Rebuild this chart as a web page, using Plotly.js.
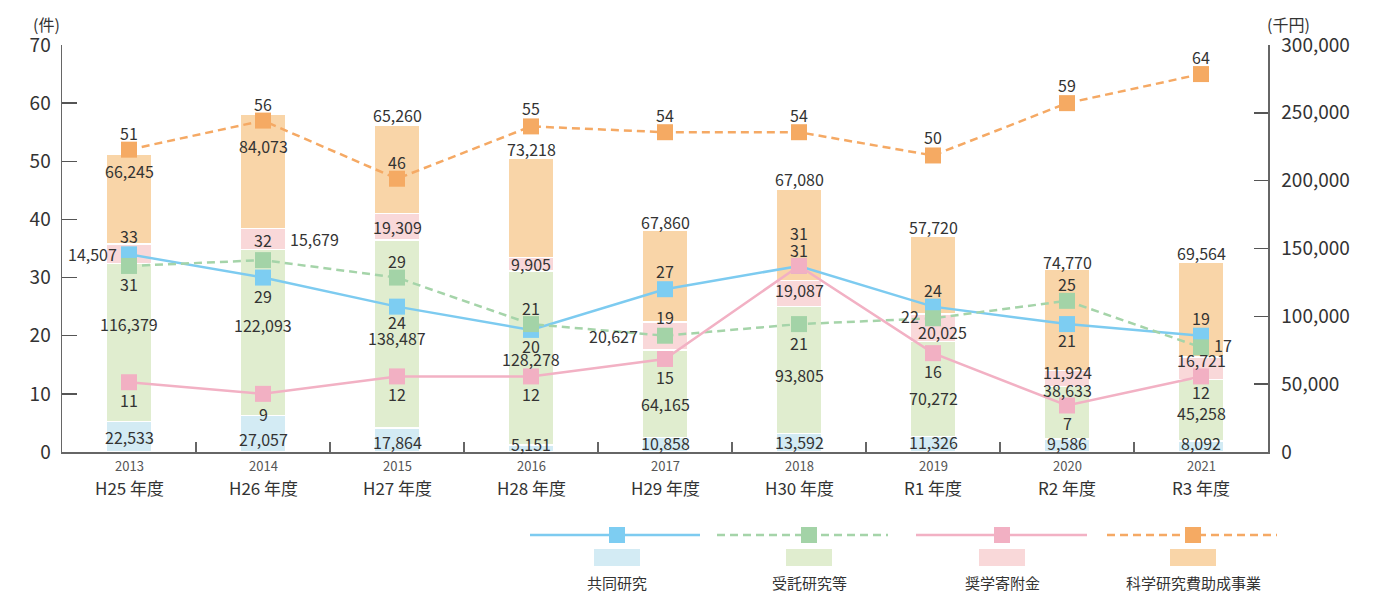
<!DOCTYPE html>
<html>
<head>
<meta charset="utf-8">
<script src="https://cdn.plot.ly/plotly-3.0.1.min.js"></script>
<style>html,body{margin:0;padding:0;background:#fff}#chart{width:1385px;height:592px}</style>
</head>
<body>
<div id="chart"></div>
<script>
// ---- data ----
const categories = ['2013','2014','2015','2016','2017','2018','2019','2020','2021'];
const fiscalLabels = ['H25 年度','H26 年度','H27 年度','H28 年度','H29 年度','H30 年度','R1 年度','R2 年度','R3 年度'];
const seriesNames = ['共同研究','受託研究等','奨学寄附金','科学研究費助成事業'];

// amounts (千円), stacked bars on the right axis
const amtKyodo  = [22533, 27057, 17864, 5151, 10858, 13592, 11326, 9586, 8092];
const amtJutaku = [116379, 122093, 138487, 128278, 64165, 93805, 70272, 38633, 45258];
const amtKifu   = [14507, 15679, 19309, 9905, 20627, 19087, 20025, 11924, 16721];
const amtKaken  = [66245, 84073, 65260, 73218, 67860, 67080, 57720, 74770, 69564];

// counts (件): marker positions as drawn, and the printed labels
const cntKyodo  = [34, 30, 25, 21, 28, 32, 25, 22, 20];
const cntJutaku = [32, 33, 30, 22, 20, 22, 23, 26, 18];
const cntKifu   = [12, 10, 13, 13, 16, 32, 17, 8, 13];
const cntKaken  = [52, 57, 47, 56, 55, 55, 51, 60, 65];
const lblKyodo  = [33, 29, 24, 20, 27, 31, 24, 21, 19];
const lblJutaku = [31, 32, 29, 21, 19, 21, 22, 25, 17];
const lblKifu   = [11, 9, 12, 12, 15, 31, 16, 7, 12];
const lblKaken  = [51, 56, 46, 55, 54, 54, 50, 59, 64];

// ---- styles ----
const barColors  = ['#d3ebf4', '#e0edcf', '#f9d8d9', '#f9d5a8'];
const lineColors = ['#7dcbf0', '#a5d4a9', '#f2b1c4', '#f5a964'];
const markerColors = ['#7dcdf2', '#a3d3a7', '#f2b0c3', '#f5aa63'];
const dashes = ['solid', '8px,5px', 'solid', '8px,5px'];
const FONT = '"Noto Sans CJK JP", "Noto Sans", sans-serif';
const TXT = '#333333';

// label placement (pixels)
const shiftCntKyodo  = [[0,18],[0,-18],[0,-15],[0,-16],[0,18],[0,33],[0,17],[0,-16],[0,18]];
const shiftCntJutaku = [[0,-18],[0,20],[0,17],[0,16],[0,19],[0,-19],[-23,2],[0,17],[22,2]];
const shiftCntKifu   = [[0,-18],[0,-20],[0,-18],[0,-18],[0,-18],[0,16],[0,-18],[0,-18],[0,-16]];
const shiftCntKaken  = [[0,17],[0,17],[0,17],[0,18],[0,17],[0,17],[0,18],[0,18],[0,17]];
const nudgeKyodo  = [0,-5,-2,5,2,1,2,3,4];
const nudgeJutaku = [18,7,-4,-1,-10,-5,-9,23,-3];
const nudgeKifu   = [[-10,0,'right'],[25,0,'left'],[0,0,'center'],[0,0,'center'],[-25,0,'right'],[0,3,'center'],[9,-4,'center'],[0,6,'center'],[0,8,'center']];
const nudgeKaken  = [-17,-32,10,9,8,10,9,7,10];

// geometry
const W = 1385, H = 592, ML = 62, MR = 117, MT = 45, MB = 140;
const PW = W - ML - MR, PH = H - MT - MB;
const px = x => (x - ML) / PW;
const py = y => (H - MB - y) / PH;

const fmt = v => v.toLocaleString('en-US');

const amounts = [amtKyodo, amtJutaku, amtKifu, amtKaken];
const counts = [cntKyodo, cntJutaku, cntKifu, cntKaken];

const traces = [];
amounts.forEach((arr, i) => {
  traces.push({
    type: 'bar', x: categories, y: arr, yaxis: 'y', xaxis: 'x',
    marker: {color: barColors[i], line: {color: '#ffffff', width: 1.5}},
    hoverinfo: 'skip', showlegend: false
  });
});
counts.forEach((arr, i) => {
  traces.push({
    type: 'scatter', mode: 'lines+markers', x: categories, y: arr, yaxis: 'y2', xaxis: 'x',
    line: {color: lineColors[i], width: 2.5, dash: dashes[i]},
    marker: {symbol: 'square', size: 16, color: markerColors[i]},
    hoverinfo: 'skip', showlegend: false
  });
});

const ann = [];
const baseFont = {family: FONT, size: 16, color: TXT};

// count labels (x given as category index)
function addCount(vals, lbls, shifts) {
  vals.forEach((v, k) => {
    ann.push({x: k, y: v, xref: 'x', yref: 'y2', text: String(lbls[k]),
      showarrow: false, xshift: shifts[k][0], yshift: shifts[k][1], font: baseFont,
      xanchor: 'center', yanchor: 'middle'});
  });
}
addCount(cntKyodo, lblKyodo, shiftCntKyodo);
addCount(cntJutaku, lblJutaku, shiftCntJutaku);
addCount(cntKifu, lblKifu, shiftCntKifu);
addCount(cntKaken, lblKaken, shiftCntKaken);

// amount labels
categories.forEach((c, k) => {
  const b0 = 0, b1 = amtKyodo[k], b2 = b1 + amtJutaku[k], b3 = b2 + amtKifu[k], b4 = b3 + amtKaken[k];
  ann.push({x: k, y: (b0 + b1) / 2, xref: 'x', yref: 'y', text: fmt(amtKyodo[k]), showarrow: false,
    yshift: nudgeKyodo[k], font: baseFont, xanchor: 'center', yanchor: 'middle'});
  ann.push({x: k, y: (b1 + b2) / 2, xref: 'x', yref: 'y', text: fmt(amtJutaku[k]), showarrow: false,
    yshift: nudgeJutaku[k], font: baseFont, xanchor: 'center', yanchor: 'middle'});
  ann.push({x: k, y: (b2 + b3) / 2, xref: 'x', yref: 'y', text: fmt(amtKifu[k]), showarrow: false,
    xshift: nudgeKifu[k][0], yshift: nudgeKifu[k][1], xanchor: nudgeKifu[k][2], font: baseFont, yanchor: 'middle'});
  ann.push({x: k, y: b4, xref: 'x', yref: 'y', text: fmt(amtKaken[k]), showarrow: false,
    yshift: nudgeKaken[k], font: baseFont, xanchor: 'center', yanchor: 'middle'});
  // x labels
  ann.push({x: k, y: py(465), xref: 'x', yref: 'paper', text: c, showarrow: false,
    font: {family: FONT, size: 13, color: '#555'}, xanchor: 'center', yanchor: 'middle'});
  ann.push({x: k, y: py(487), xref: 'x', yref: 'paper', text: fiscalLabels[k], showarrow: false,
    font: {family: FONT, size: 17, color: TXT}, xanchor: 'center', yanchor: 'middle'});
});

// axis unit titles
ann.push({x: px(46), y: py(24), xref: 'paper', yref: 'paper', text: '(件)', showarrow: false,
  font: {family: FONT, size: 16, color: TXT}, xanchor: 'center', yanchor: 'middle'});
ann.push({x: px(1288), y: py(24), xref: 'paper', yref: 'paper', text: '(千円)', showarrow: false,
  font: {family: FONT, size: 16, color: TXT}, xanchor: 'center', yanchor: 'middle'});

// custom legend
const shapes = [];
const legLines = [[530, 700], [717, 888], [916, 1087], [1107, 1277]];
const legCenters = [617, 809, 1002, 1193];
legLines.forEach((seg, i) => {
  shapes.push({type: 'line', xref: 'paper', yref: 'paper', x0: px(seg[0]), x1: px(seg[1]), y0: py(535), y1: py(535),
    line: {color: lineColors[i], width: 2.5, dash: dashes[i]}});
  shapes.push({type: 'rect', xref: 'paper', yref: 'paper', x0: px(legCenters[i] - 8), x1: px(legCenters[i] + 8),
    y0: py(527), y1: py(543), fillcolor: markerColors[i], line: {width: 0}});
  shapes.push({type: 'rect', xref: 'paper', yref: 'paper', x0: px(legCenters[i] - 23), x1: px(legCenters[i] + 23),
    y0: py(549), y1: py(566), fillcolor: barColors[i], line: {width: 0}});
  ann.push({x: px(legCenters[i]), y: py(582), xref: 'paper', yref: 'paper', text: seriesNames[i], showarrow: false,
    font: {family: FONT, size: 15, color: TXT}, xanchor: 'center', yanchor: 'middle'});
});

const layout = {
  width: W, height: H,
  margin: {l: ML, r: MR, t: MT, b: MB, pad: 0},
  paper_bgcolor: '#ffffff', plot_bgcolor: 'rgba(0,0,0,0)',
  barmode: 'stack', bargap: 0.66,
  showlegend: false, hovermode: false,
  font: {family: FONT, color: TXT},
  xaxis: {type: 'category', range: [-0.5, 8.5], showline: true, linecolor: '#666', linewidth: 1.5,
    ticks: 'inside', tickson: 'boundaries', ticklen: 10, tickcolor: '#666', tickwidth: 1.5,
    showticklabels: false, showgrid: false, zeroline: false, fixedrange: true},
  yaxis: {side: 'right', range: [0, 300000], dtick: 50000, tickformat: ',', showline: true, linecolor: '#666', linewidth: 1.5,
    ticks: 'inside', ticklen: 14, tickcolor: '#555', tickwidth: 1.5, showgrid: false, zeroline: false,
    tickfont: {family: FONT, size: 19, color: TXT}, ticklabelstandoff: 8},
  yaxis2: {side: 'left', overlaying: 'y', range: [0, 70], dtick: 10, showline: true, linecolor: '#666', linewidth: 1.5,
    ticks: 'inside', ticklen: 15, tickcolor: '#555', tickwidth: 1.5, showgrid: false, zeroline: false,
    tickfont: {family: FONT, size: 19, color: TXT}, ticklabelstandoff: 6},
  annotations: ann,
  shapes: shapes
};

Plotly.newPlot('chart', traces, layout, {staticPlot: true, displayModeBar: false});
</script>
</body>
</html>
